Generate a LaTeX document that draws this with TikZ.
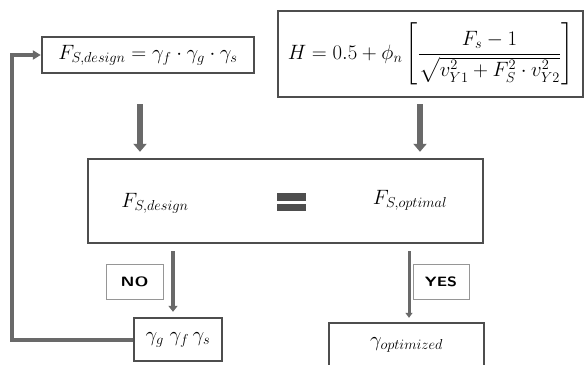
\documentclass[tikz,border=0pt]{standalone}
\usepackage{tikz}
\usetikzlibrary{
    arrows.meta,
    positioning,
    calc
}
\usepackage{amsmath}
\definecolor{boxgray}{RGB}{78,78,78}
\definecolor{arrowgray}{RGB}{105,105,105}
\definecolor{labelgray}{RGB}{150,150,150}
\tikzstyle{formbox} = [
    rectangle,
    draw=boxgray,
    line width=2.4pt,
    inner sep=0pt,
    font=\fontsize{21}{25}\selectfont
]
\tikzstyle{plaintext} = [
    inner sep=0pt,
    font=\fontsize{21}{25}\selectfont
]
\tikzstyle{answer} = [
    rectangle,
    draw=labelgray,
    line width=0.8pt,
    minimum height=35pt,
    inner sep=0pt,
    font=\sffamily\bfseries\fontsize{13.5}{16}\selectfont
]
\tikzstyle{fatarrow} = [
    -{Triangle[width=13pt,length=8pt]},
    line width=6.5pt,
    draw=arrowgray
]
\tikzstyle{noarrow} = [
    -{Triangle[width=9pt,length=6pt]},
    line width=4.5pt,
    draw=arrowgray
]
\tikzstyle{yesarrow} = [
    -{Triangle[width=7pt,length=5pt]},
    line width=3pt,
    draw=arrowgray
]
\tikzstyle{loopline} = [
    -{Triangle[width=9pt,length=8pt]},
    line width=4pt,
    draw=arrowgray
]

\begin{document}
\begin{tikzpicture}[x=1pt, y=-1pt]
    \useasboundingbox[fill=white] (0,0) rectangle (586,364);

    % Input formulas
    \node[formbox, minimum width=212pt, minimum height=36pt] (des) at (148,55)
        {$F_{S,design} = \gamma_f \cdot \gamma_g \cdot \gamma_s$};
    \node[formbox, minimum width=305pt, minimum height=86pt] (hyp) at (430.5,54)
        {$H = 0.5 + \phi_n \left[\dfrac{F_s - 1}{\sqrt{v_{Y1}^2 + F_S^2 \cdot v_{Y2}^2}}\right]$};

    % Comparison
    \node[formbox, minimum width=395pt, minimum height=84pt] (cmp) at (285.5,201) {};
    \node[plaintext] (fdes) at (155,203) {$F_{S,design}$};
    \node[plaintext] (fopt) at (410,200) {$F_{S,optimal}$};
    \fill[boxgray] (277,193) rectangle (306,201);
    \fill[boxgray] (277,204) rectangle (306,211);

    % Results
    \node[formbox, minimum width=88pt, minimum height=43pt] (gam) at (178,339.5)
        {$\gamma_g\;\gamma_f\,\gamma_s$};
    \node[formbox, minimum width=155pt, minimum height=43pt] (opt) at (406.5,344.5)
        {$\gamma_{optimized}$};

    % Answer labels
    \node[answer, minimum width=57pt] (no) at (134.5,281.5) {\scalebox{1.3}[1]{NO}};
    \node[answer, minimum width=56pt] (yes) at (441,281.5) {\scalebox{1.2}[1]{YES}};

    % Arrows
    \coordinate (a1) at ($(des.south)+(-8,30)$);
    \coordinate (a2) at ($(hyp.south)+(-10.5,6)$);
    \coordinate (a3) at ($(cmp.south)+(-112.5,7)$);
    \coordinate (a4) at ($(cmp.south)+(123.5,7)$);
    \draw[fatarrow, shorten >=6pt] (a1) -- (a1 |- cmp.north);
    \draw[fatarrow, shorten >=6pt] (a2) -- (a2 |- cmp.north);
    \draw[noarrow, shorten >=5pt] (a3) -- (a3 |- gam.north);
    \draw[yesarrow, shorten >=4pt] (a4) -- (a4 |- opt.north);
    \draw[loopline] (gam.west) -- ++(-121,0) |- (des.west);
\end{tikzpicture}
\end{document}
